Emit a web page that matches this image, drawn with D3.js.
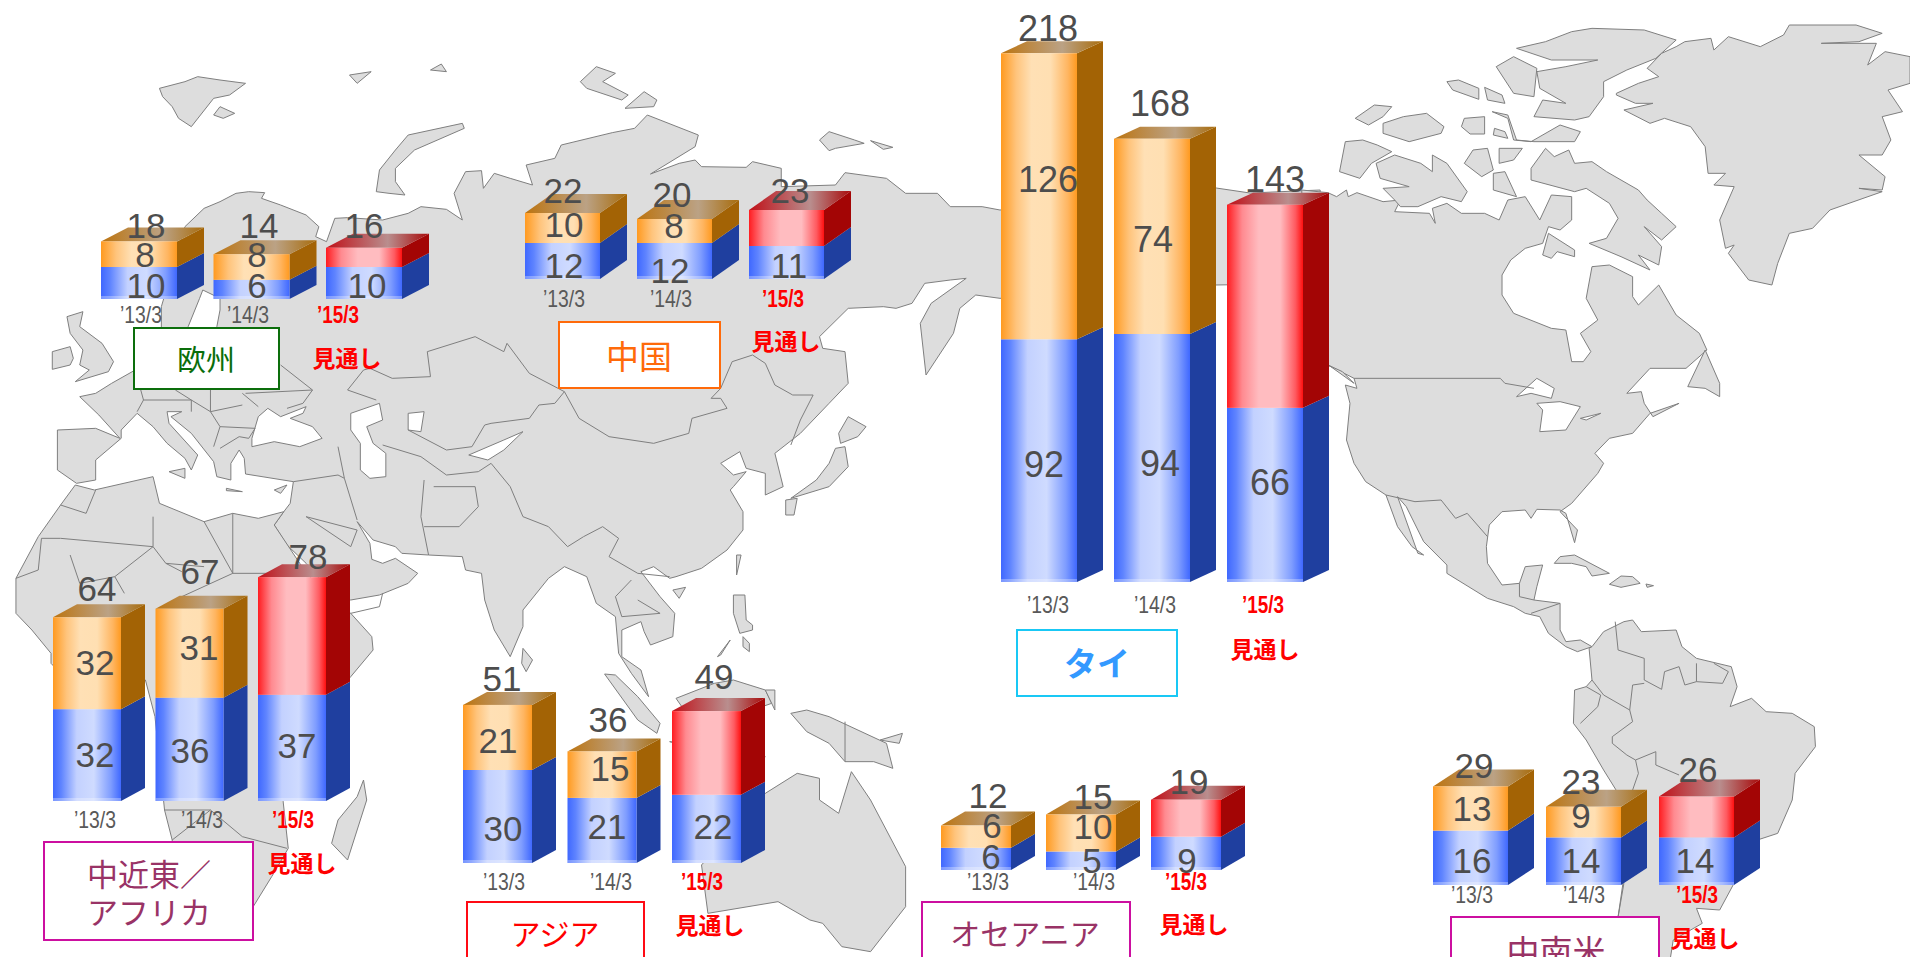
<!DOCTYPE html>
<html lang="ja"><head><meta charset="utf-8">
<script src="https://cdn.jsdelivr.net/npm/d3@7"></script>
<style>html,body{margin:0;padding:0;background:#fff;overflow:hidden}svg{display:block}</style>
</head><body><svg id="c" width="1910" height="957"></svg>
<script>
// ---------- chart data ----------
const regions = ["欧州","中国","タイ","中近東／アフリカ","アジア","オセアニア","中南米"];
const dates = ["'13/3","'14/3","'15/3"];
const forecastLabel = "見通し";
const blueValues = [[10,6,10],[12,12,11],[92,94,66],[32,36,37],[30,21,22],[6,5,9],[16,14,14]];
const upperValues = [[8,8,6],[10,8,12],[126,74,77],[32,31,41],[21,15,27],[6,10,10],[13,9,12]];
const totalValues = [[18,14,16],[22,20,23],[218,168,143],[64,67,78],[51,36,49],[12,15,19],[29,23,26]];

// ---------- layout (separate from the data) ----------
const groupLayout = [
 {x:101,step:112.5,w:76,dx:27,dy:14,base:299,k:3.2},
 {x:525,step:112,w:75,dx:27,dy:19,base:279,k:3.0},
 {x:1001,step:113,w:76,dx:26,dy:12,base:582,k:2.64,knots:[0,94,126],px:[0,248,286]},
 {x:53,step:102.5,w:68,dx:24,dy:13,base:801,k:2.87},
 {x:463,step:104.5,w:69,dx:24,dy:13,base:863,k:3.1},
 {x:941,step:105,w:70,dx:24,dy:14,base:870,k:3.7},
 {x:1433,step:113,w:75,dx:26,dy:17,base:885,k:3.4}
];
const totalPos = [[[146,238],[259,238],[364,238]],[[563,203],[672,207],[790,203]],[[1048,41],[1160,116],[1275,192]],[[97,601],[200,584],[308,569]],[[502,691],[608,732],[714,689]],[[988,808],[1093,809],[1189,794]],[[1474,778],[1581,794],[1698,782]]];
const upperPos = [[[145,267],[257,267],null],[[564,237],[674,238],null],[[1048,192],[1153,252],null],[[95,675],[199,660],null],[[498,753],[610,781],null],[[992,838],[1093,839],null],[[1472,821],[1581,828],null]];
const bluePos = [[[146,298],[257,298],[367,298]],[[564,278],[670,283],[789,278]],[[1044,477],[1160,476],[1270,495]],[[95,767],[190,763],[297,758]],[[503,841],[607,839],[713,839]],[[991,869],[1092,873],[1187,873]],[[1472,873],[1581,873],[1695,873]]];
const datePos = [[[141,323],[248,323],[338,323]],[[564,307],[671,307],[783,307]],[[1048,613],[1155,613],[1263,613]],[[95,828],[202,828],[293,828]],[[504,890],[611,890],[702,890]],[[988,890],[1094,890],[1186,890]],[[1472,903],[1584,903],[1697,903]]];
const forecastPos = [[347,357],[786,340],[1265,648],[302,862],[710,924],[1194,923],[1705,937]];
const boxLayout = [
 {x0:134,x1:279,y0:328,y1:389,stroke:"#0c6e0c",color:"#0a6e0a",fs:29,cx:206,lines:[["欧州",358]]},
 {x0:559,x1:720,y0:322,y1:388,stroke:"#ff6a0a",color:"#ff6a0a",fs:33,cx:639,lines:[["中国",355]]},
 {x0:1017,x1:1177,y0:630,y1:696,stroke:"#19c8f5",color:"#3399ff",fs:33,cx:1097,lines:[["タイ",662]],weight:700},
 {x0:44,x1:253,y0:842,y1:940,stroke:"#cc0fa0",color:"#993366",fs:31,cx:149,lines:[["中近東／",872],["アフリカ",910]]},
 {x0:467,x1:644,y0:902,y1:975,stroke:"#ff0a14",color:"#ff0000",fs:30,cx:555,lines:[["アジア",932]]},
 {x0:922,x1:1130,y0:902,y1:975,stroke:"#cc0fa0",color:"#993366",fs:30,cx:1025,lines:[["オセアニア",932]]},
 {x0:1451,x1:1659,y0:917,y1:985,stroke:"#cc0fa0",color:"#993366",fs:33,cx:1556,lines:[["中南米",950]]}
];

// ---------- background map outlines (traced in two reference frames) ----------
const mapLeftLand = [
 // Eurasia
 [320,475,345,455,370,430,390,425,415,428,410,445,440,465,480,495,500,530,495,560,512,575,525,505,545,503,600,510,640,490,660,470,700,478,725,510,712,430,730,365,755,362,758,415,775,370,800,385,835,405,825,345,870,325,880,285,960,248,995,235,1015,195,1035,210,1095,255,1090,290,1020,372,1065,340,1090,330,1100,350,1170,352,1180,335,1225,355,1225,410,1310,405,1325,368,1390,385,1420,430,1470,430,1490,470,1540,470,1568,480,1907,414,1960,429,2070,420,2070,700,1905,705,1568,745,1530,735,1505,775,1495,850,1452,975,1443,820,1460,760,1515,685,1490,690,1450,700,1430,760,1405,775,1385,770,1330,775,1285,860,1290,895,1325,905,1330,1000,1300,1060,1255,1150,1215,1210,1228,1310,1200,1335,1200,1270,1170,1255,1160,1205,1130,1240,1150,1275,1170,1265,1150,1310,1145,1320,1165,1385,1165,1440,1140,1500,1100,1555,1060,1580,1050,1585,1025,1550,1005,1565,1035,1640,1058,1690,1055,1760,1020,1785,1010,1745,1005,1715,975,1740,975,1820,1005,1860,1017,1940,990,1870,970,1810,965,1700,935,1660,920,1580,885,1550,860,1585,820,1680,820,1730,800,1820,775,1740,760,1650,755,1570,730,1560,725,1520,672,1515,630,1510,620,1490,585,1470,560,1415,580,1480,583,1528,600,1540,620,1525,655,1570,640,1600,595,1635,550,1650,525,1640,480,1540,450,1485,430,1425,445,1385,455,1360,460,1295,385,1272,383,1225,375,1200,362,1240,362,1290,340,1280,335,1235,300,1150,268,1100,285,1085,262,1085,265,1120,310,1215,300,1260,290,1225,262,1180,240,1130,215,1090,190,1140,190,1165,150,1230,150,1290,120,1300,90,1260,90,1140,150,1135,188,1165,155,1095,125,1040,150,1030,175,1000,212,960,253,900,253,770,290,530],
 // Africa
 [118,1305,148,1320,240,1280,250,1360,320,1415,365,1390,405,1405,445,1385,430,1425,470,1540,490,1590,550,1690,583,1760,585,1800,550,1880,510,1960,444,2255,452,2395,426,2480,397,2570,340,2620,275,2560,270,2370,258,2280,243,2000,228,1890,120,1920,80,1840,80,1810,50,1740,25,1690,25,1585,60,1460,95,1365],
 // Madagascar
 [570,2190,575,2250,545,2430,520,2380,530,2310,560,2240],
 // Svalbard, Arctic islands
 [250,115,290,95,310,80,345,90,385,100,360,135,335,145,300,230,280,205,270,170,255,140],
 [335,195,345,170,368,190,350,205],[548,75,582,65,560,100],[675,60,692,42,700,65],
 [590,425,595,360,620,300,640,255,725,220,728,235,650,300,620,355,620,395,635,435,610,430],
 [910,95,935,50,965,70,945,95,985,135,975,150,920,115],[980,175,1010,125,1030,150,1025,170],
 [1285,270,1300,245,1340,270,1355,280,1310,295,1300,302],[1365,272,1400,292,1385,298],
 // British Isles
 [105,800,130,785,125,830,160,880,178,935,170,965,118,995,140,960,125,945,130,900,110,850],
 [82,905,110,890,115,925,110,945,82,958],
 // Japan, east Asia
 [1330,1100,1358,1130,1345,1160,1318,1180,1315,1150],[1325,1190,1330,1250,1300,1310,1240,1345,1280,1290,1300,1240,1310,1195],[1232,1350,1250,1345,1245,1395,1232,1395],
 [1155,1515,1162,1515,1155,1575],[1055,1620,1075,1612,1065,1645],
 [1150,1635,1168,1635,1170,1710,1180,1725,1180,1740,1160,1750,1150,1690],[1165,1760,1175,1780,1175,1805,1165,1790],[1125,1820,1145,1770,1130,1815],
 [820,1795,835,1830,825,1865,818,1840],
 [948,1872,965,1875,1000,1940,1035,2020,1030,2050,1000,2010],
 [1060,1945,1120,1900,1150,1890,1200,1920,1210,1960,1150,2000,1080,2000],
 [1200,1920,1215,1920,1215,1980],[1050,2075,1140,2095,1200,2120,1130,2110],
 // New Guinea etc.
 [1240,1990,1265,1980,1300,2000,1390,2080,1400,2155,1370,2135,1325,2135,1300,2080,1265,2045],[1380,2070,1415,2050,1410,2080],
 // Australia
 [1200,2230,1250,2170,1285,2185,1285,2250,1315,2290,1335,2165,1365,2250,1420,2450,1420,2570,1365,2705,1320,2690,1290,2620,1270,2610,1220,2555,1110,2590,1100,2445],
 // Mediterranean islands
 [355,1315,380,1325,355,1322],[265,1265,290,1255,290,1285],[430,1320,450,1305,440,1330]
];
const mapLeftWater = [
 [395,1165,405,1100,420,1075,440,1100,480,1070,475,1090,455,1105,490,1130,505,1165,470,1190,430,1175,395,1190],
 [550,1090,595,1060,600,1110,575,1130,585,1180,605,1210,605,1280,580,1285,565,1260,565,1180,550,1140],
 [640,1090,665,1085,660,1145,640,1140],
 [735,1215,790,1170,820,1145,790,1200,765,1230],
 [318,720,345,745,345,780,340,830,345,950,270,950,295,830,313,745]
];
const mapLeftBorders = [
 [545,1020,570,960,580,955,615,985,675,980,670,905,745,860,790,905,795,880,830,970,875,1015,885,1025,908,1105,955,1160,1025,1180,1080,1150,1085,1105,1140,1075,1130,1045,1115,1045,1130,1015,1148,935,1180,915,1200,940,1215,1005,1243,1035,1275,1035,1255,1110,1240,1185],
 [885,1025,870,1060,845,1065,830,1105,770,1120,760,1125,740,1190,700,1200,640,1140],
 [545,1020,590,1050],[490,1020,440,945],[490,1020,475,1060,450,1075],
 [600,1185,660,1220,700,1275,750,1265,770,1240,800,1310,820,1400,860,1430,890,1490,915,1460,945,1430,970,1465,955,1520,1000,1570,1050,1580],
 [530,1190,540,1285,560,1410],[665,1290,660,1400,672,1515],[680,1310,745,1310,750,1370,720,1430,665,1430],
 [990,1590,965,1640,975,1700,1035,1690,1000,1650],[460,1295,530,1275,540,1285],[480,1400,560,1440,550,1490],[550,1490,480,1400],
 [220,1015,225,1050,215,1085],[225,1050,300,1050,330,1085,380,1065],[275,1020,300,1050,300,1085],[330,1020,330,1085,345,1130,400,1135,390,1165],[345,1130,335,1190],[380,1030,405,1070],[385,1030,490,1020],[345,1195,375,1160,390,1165],
 [95,1365,135,1390,150,1320],[240,1400,240,1490,260,1540,320,1550],[240,1490,180,1580,195,1630],[60,1560,65,1465,95,1465,240,1490],[110,1515,125,1600,180,1580],[25,1585,60,1560],
 [365,1390,365,1570,440,1570,500,1575],[365,1570,285,1640],[320,1415,365,1570],[260,1540,285,1565],[550,1690,595,1670,600,1630],
 [258,2280,330,2280,380,2360,450,2395],[330,2280,270,2370],[1325,2015,1325,2135]
];
const mapRightLand = [
 // North America
 [520,570,565,578,580,590,597,570,600,590,615,578,660,605,690,600,680,635,740,640,750,670,745,625,770,610,795,640,835,640,860,660,875,600,905,590,930,660,950,585,985,590,985,660,965,690,945,680,935,730,905,745,880,780,865,825,865,885,885,940,950,985,975,990,985,1085,1005,1085,1018,1055,1000,1000,1030,960,1010,895,1020,800,1050,795,1090,830,1090,890,1100,915,1135,855,1165,945,1205,1000,1218,1050,1182,1105,1120,1105,1080,1180,1105,1175,1110,1210,1125,1250,1170,1210,1120,1240,1090,1300,1050,1315,1025,1360,1040,1390,1030,1420,985,1510,965,1535,995,1590,990,1628,975,1540,965,1530,925,1528,915,1555,905,1530,865,1535,843,1575,838,1640,840,1690,865,1755,895,1750,905,1700,935,1695,925,1760,920,1800,965,1810,965,1890,975,1925,1000,1920,1020,1940,995,1955,975,1940,945,1900,930,1850,905,1840,885,1820,840,1795,770,1720,770,1695,730,1625,700,1520,685,1490,720,1660,730,1665,710,1640,685,1580,665,1485,630,1445,610,1390,597,1320,603,1210,595,1155,615,1165,610,1135,565,1095,520,1000],
 // South America
 [1020,1940,1040,1895,1075,1865,1090,1860,1105,1895,1165,1890,1175,1940,1200,1975,1260,2000,1270,2060,1258,2120,1295,2095,1320,2135,1365,2140,1403,2180,1405,2240,1370,2320,1365,2400,1340,2500,1305,2520,1240,2730,1200,2725,1210,2770,1160,2820,1155,2875,1060,2875,1065,2750,1090,2450,1040,2310,1010,2220,988,2170,990,2070,1010,2060,1020,2040,1015,1945],
 // Caribbean
 [955,1690,965,1670,990,1665,1050,1720,1020,1728,1010,1700,985,1690],[1050,1753,1070,1728,1090,1730,1103,1750,1070,1762],[1113,1752,1126,1757,1115,1762],
 // Canadian islands
 [565,1095,590,1115,610,1150,570,1100],[1185,1160,1215,1050,1240,1150,1240,1190,1215,1165],
 [915,540,915,505,940,445,955,470,980,450,990,490,1020,485,1045,515,1100,570,1115,600,1140,640,1165,680,1140,720,1110,680,1140,740,1135,795,1100,765,1120,810,1070,770,1015,730,1045,715,1065,655,1050,610,1010,565,990,575],
 [648,490,680,465,725,490,745,515,745,465,770,490,805,575,795,605,760,590,720,620,690,620,680,600,660,565,705,560,655,535],
 [595,425,625,420,650,435,675,455,640,490,620,535,585,515],[935,765,945,700,990,750,990,770,960,755,950,775],
 [890,145,940,125,985,95,1020,85,1110,90,1165,120,1130,175,1080,210,1040,245,1040,290,1015,350,990,360,920,350,935,300,975,310,930,265,925,215,975,200,1030,180,950,180],
 [855,200,885,170,925,205,920,290,885,280,870,240],[770,245,790,240,825,265,825,298,780,270],[835,262,865,285,870,310,840,300],
 [848,335,875,355,885,420,915,425,965,375,1000,395,990,425,920,425,890,420,875,345],
 [612,355,645,315,675,320,660,350,635,375],[660,370,695,350,735,340,765,380,760,400,705,425,660,400],[800,355,835,350,835,402,810,402,795,380],[852,385,870,395,875,415,850,405],
 [800,490,815,450,840,445,850,510,830,530],[860,445,900,445,885,480,860,490],[850,520,870,515,890,590,850,570],
 // Greenland
 [1062,280,1100,250,1135,230,1115,205,1140,160,1165,140,1180,125,1225,115,1230,150,1255,110,1310,140,1350,105,1360,75,1475,75,1520,100,1480,125,1415,130,1510,130,1495,195,1525,155,1568,170,1568,250,1530,270,1555,335,1520,350,1535,420,1520,465,1480,465,1525,530,1520,570,1480,565,1520,575,1430,630,1400,685,1360,700,1340,790,1330,855,1290,840,1255,760,1265,735,1250,745,1240,660,1265,560,1230,555,1250,520,1220,520,1215,440,1190,380,1145,355,1120,370,1075,330,1125,310,1095,310,1062,285]
];
const mapRightWater = [
 [890,1190,925,1135,955,1165,950,1195,915,1180],
 [925,1210,965,1205,1000,1220,975,1290,930,1295,935,1230],
 [1000,1255,1035,1240,1010,1260]
];
const mapRightBorders = [
 [610,1135,862,1135,870,1150,920,1165],[665,1485,715,1505,760,1500,785,1555,805,1540,840,1610],[895,1750,895,1790,920,1800],[965,1810,915,1840],
 [1060,1865,1065,1950,1110,1975,1110,2040,1140,2068,1145,2015,1170,2000,1180,2055,1200,2045,1200,1990],[1230,1990,1255,2015,1245,2050],[1200,2045,1245,2050],
 [1020,2040,1040,2085,1085,2130,1090,2055,1110,2050],[1010,2060,1035,2085,1030,2120,1000,2170],
 [1085,2130,1090,2165,1055,2210,1055,2230,1080,2265,1095,2280,1130,2255,1130,2295,1170,2325],[1095,2280,1100,2320,1090,2370],[1075,2650,1065,2750]
];

// ---------- drawing ----------
const svg = d3.select("#c");
const defs = svg.append("defs");
const FRAME = {
 left:{x:d3.scaleLinear().domain([0,1568]).range([0,1000]),y:d3.scaleLinear().domain([0,1500]).range([50,550])},
 right:{x:d3.scaleLinear().domain([0,1723]).range([1000,2000]),y:d3.scaleLinear().domain([0,1500]).range([0,500])}
};
const toPairs = f => d3.range(0,f.length,2).map(i=>[f[i],f[i+1]]);
function drawShapes(g,list,frame,closed,attrs){
 const line = d3.line().x(d=>frame.x(d[0])).y(d=>frame.y(d[1]));
 g.selectAll(null).data(list).join("path")
  .attr("d",d=>line(toPairs(d))+(closed?"Z":""))
  .attr("fill",attrs.fill).attr("stroke",attrs.stroke).attr("stroke-width",1).attr("stroke-linejoin","round");
}
const mapG = svg.append("g");
const land={fill:"#dddddd",stroke:"#7f7f7f"}, water={fill:"#ffffff",stroke:"#7f7f7f"}, border={fill:"none",stroke:"#7f7f7f"};
drawShapes(mapG,mapLeftLand,FRAME.left,true,land);
drawShapes(mapG,mapRightLand,FRAME.right,true,land);
drawShapes(mapG,mapLeftWater,FRAME.left,true,water);
drawShapes(mapG,mapRightWater,FRAME.right,true,water);
drawShapes(mapG,mapLeftBorders,FRAME.left,false,border);
drawShapes(mapG,mapRightBorders,FRAME.right,false,border);

const PAL = {
 blue:{front:[[0,"#3f68ff"],[.12,"#5f84ff"],[.35,"#c3d1ff"],[.6,"#cfdbff"],[.85,"#7f9dff"],[1,"#3f68ff"]],side:"#1f3f9f"},
 orange:{front:[[0,"#ff9a20"],[.2,"#ffc47c"],[.4,"#ffe0b5"],[.65,"#ffdfb2"],[.88,"#ffb560"],[1,"#ff9a20"]],side:"#a36305",top:["#bc7410","#bba285","#a86c0c"]},
 red:{front:[[0,"#ff1c20"],[.2,"#ff8a90"],[.42,"#ffbcc0"],[.7,"#ffbcc0"],[.9,"#ff5a60"],[1,"#ff1010"]],side:"#a30505",top:["#c01018","#b98e8e","#a80a0a"]}
};
Object.entries(PAL).forEach(([name,p])=>{
 defs.append("linearGradient").attr("id","f-"+name).selectAll("stop").data(p.front).join("stop")
  .attr("offset",d=>d[0]).attr("stop-color",d=>d[1]);
 if(p.top) defs.append("linearGradient").attr("id","t-"+name).selectAll("stop").data(p.top).join("stop")
  .attr("offset",(d,i)=>[0,.6,1][i]).attr("stop-color",d=>d);
});

const NUM = "'Liberation Sans',Arial,sans-serif", CJK = "'Noto Sans CJK JP','Noto Sans',sans-serif";
const GREY = "#4d4d4d";

// white panel behind the tall Thai bars
const tl = groupLayout[2];
const tBand = d3.scaleBand().domain(dates).range([tl.x,tl.x+2*tl.step+tl.w]).paddingInner(1-tl.w/tl.step);
svg.append("rect").attr("x",tBand(dates[0])+tl.w).attr("y",0).attr("width",tBand(dates[1])-tBand(dates[0])-tl.w).attr("height",tl.base).attr("fill","#fff");

// region boxes
const boxes = svg.append("g");
boxLayout.forEach((b,i)=>{
 boxes.append("rect").attr("x",b.x0).attr("y",b.y0).attr("width",b.x1-b.x0).attr("height",b.y1-b.y0)
  .attr("fill","#fff").attr("stroke",b.stroke).attr("stroke-width",2);
 b.lines.forEach(l=>boxes.append("text").text(l[0]).attr("x",b.cx).attr("y",l[1]).attr("text-anchor","middle")
  .attr("dominant-baseline","central").attr("font-family",CJK).attr("font-size",b.fs).attr("font-weight",b.weight||400).attr("fill",b.color));
});

// 3D stacked bars
regions.forEach((region,ri)=>{
 const L = groupLayout[ri];
 const x = d3.scaleBand().domain(dates).range([L.x,L.x+2*L.step+L.w]).paddingInner(1-L.w/L.step);
 const h = L.knots ? d3.scaleLinear().domain(L.knots).range(L.px) : d3.scaleLinear().domain([0,1]).range([0,L.k]);
 const g = svg.append("g").attr("class","region");
 dates.forEach((d,di)=>{
  const x0=x(d), w=x.bandwidth();
  const yBase=L.base, ySplit=yBase-h(blueValues[ri][di]), yTop=ySplit-h(upperValues[ri][di]);
  const upper = di===2?"red":"orange";
  const poly=(pts,fill)=>g.append("polygon").attr("points",pts.map(p=>p.join(",")).join(" ")).attr("fill",fill);
  // side faces
  poly([[x0+w,yBase],[x0+w+L.dx,yBase-L.dy],[x0+w+L.dx,ySplit-L.dy],[x0+w,ySplit]],PAL.blue.side);
  poly([[x0+w,ySplit],[x0+w+L.dx,ySplit-L.dy],[x0+w+L.dx,yTop-L.dy],[x0+w,yTop]],PAL[upper].side);
  // top face
  poly([[x0,yTop],[x0+L.dx,yTop-L.dy],[x0+w+L.dx,yTop-L.dy],[x0+w,yTop]],`url(#t-${upper})`);
  // front faces
  g.append("rect").attr("x",x0).attr("y",ySplit).attr("width",w).attr("height",yBase-ySplit).attr("fill","url(#f-blue)");
  g.append("rect").attr("x",x0).attr("y",yTop).attr("width",w).attr("height",ySplit-yTop).attr("fill",`url(#f-${upper})`);
  g.append("rect").attr("x",x0).attr("y",yBase-3).attr("width",w).attr("height",3).attr("fill","#fff").attr("opacity",.3);
 });
});

// labels above the bars
const labels = svg.append("g");
const num=(v,p,fs)=>labels.append("text").text(v).attr("x",p[0]).attr("y",p[1]).attr("text-anchor","middle")
 .attr("font-family",NUM).attr("font-size",fs).attr("fill",GREY);
regions.forEach((region,ri)=>{
 const fs = ri===2?36:35;
 dates.forEach((d,di)=>{
  num(totalValues[ri][di],totalPos[ri][di],fs);
  if(upperPos[ri][di]) num(upperValues[ri][di],upperPos[ri][di],fs);
  num(blueValues[ri][di],bluePos[ri][di],fs);
  const isF = di===2, p=datePos[ri][di];
  labels.append("text").text(d.replace("'","’")).attr("x",p[0]).attr("y",p[1]).attr("text-anchor","middle")
   .attr("font-family",NUM).attr("font-size",24).attr("font-weight",isF?700:400).attr("fill",isF?"#ff0000":"#595959")
   .attr("textLength",42).attr("lengthAdjust","spacingAndGlyphs");
 });
 labels.append("text").text(forecastLabel).attr("x",forecastPos[ri][0]).attr("y",forecastPos[ri][1]).attr("text-anchor","middle")
  .attr("dominant-baseline","central").attr("font-family",CJK).attr("font-size",23).attr("font-weight",700).attr("fill","#ff0000");
});
</script></body></html>
